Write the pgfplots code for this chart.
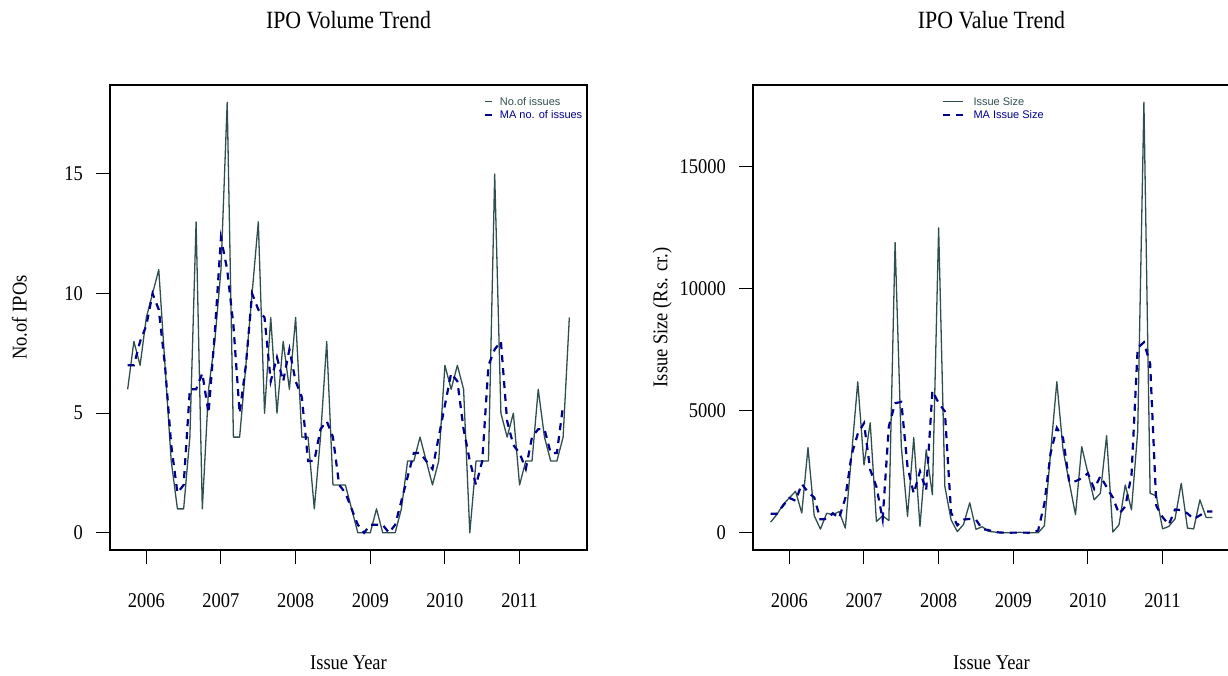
\documentclass[border=0pt]{standalone}
\usepackage{fontspec}
\setmainfont{Liberation Serif}[FakeStretch=0.88]
\newfontfamily\legfont{Liberation Sans}
\usepackage{pgfplots}
\pgfplotsset{compat=1.18}
\usepackage{pgfplotstable}
\definecolor{solidc}{HTML}{2F4F4F}
\definecolor{mac}{HTML}{00008B}
\newcommand\rfont{\fontsize{21}{24}\selectfont}
\newcommand\tfont{\fontsize{24.8}{28}\selectfont}
\newcommand\lfont{\legfont\fontsize{11}{13}\selectfont}

\pgfplotstableread{
i n nma s sma
0 6 7 440 783.3
1 8 7 750 783.3
2 7 8 1160 1113.3
3 9 8.667 1430 1430
4 10 10 1700 1313.3
5 11 9.333 810 2000
6 7 7 3490 1666.7
7 3 3.667 700 1446.7
8 1 1.667 150 550
9 1 2 800 563.3
10 4 6 740 803.3
11 13 6 870 600
12 1 6.667 190 1420
13 6 5 3200 3193.3
14 8 8.333 6190 4056.7
15 11 12.333 2780 4493.3
16 18 11 4510 2583.3
17 4 8.667 460 1890
18 4 5 700 553.3
19 7 7 500 4366.7
20 10 10 11900 5310
21 13 9.333 3530 5366.7
22 5 9 670 2700
23 9 6.333 3900 1610
24 5 7.333 260 2520
25 8 6.333 3400 1740
26 6 7.667 1560 5820
27 9 6.333 12500 5320
28 4 5.667 1900 4976.7
29 4 3 530 826.7
30 1 3 50 306.7
31 4 4.333 340 540
32 8 4.667 1230 570
33 2 4 140 540
34 2 2 250 150
35 2 1.667 60 113.3
36 1 1 30 30
37 0 0.333 0 10
38 0 0 0 0
39 0 0.333 0 6.7
40 1 0.333 20 6.7
41 0 0.333 0 6.7
42 0 0 0 0
43 0 0.333 0 96.7
44 1 1.333 290 1200
45 3 2.333 3310 3263.3
46 3 3.333 6190 4300
47 4 3.333 3400 3886.7
48 3 3 2070 2070
49 2 2.667 740 2113.3
50 3 4 3530 2236.7
51 7 5.333 2440 2440
52 6 6.667 1350 1803.3
53 7 6.333 1620 2316.7
54 6 4.333 3980 1876.7
55 0 3 30 1446.7
56 3 2 330 773.3
57 3 3 1960 1076.7
58 3 7 940 2350
59 15 7.667 4150 7580
60 5 8 17650 7806.7
61 4 4.667 1620 6926.7
62 5 3.667 1510 1096.7
63 2 3.333 160 643.3
64 3 2.667 260 330
65 3 4 570 953.3
66 6 4.333 2030 930
67 4 4.333 190 793.3
68 3 3.333 160 566.7
69 3 3.333 1350 713.3
70 4 5.333 630 870
71 9 nan 630 870
}\data

\tikzset{
  sline/.style={solidc, line width=1.3pt, line join=round},
  dline/.style={mac, line width=2.2pt, dash pattern=on 7pt off 6pt},
  legtext/.style={anchor=base west, inner sep=0pt, font=\lfont},
}

\pgfplotsset{
  rstyle/.style={
    scale only axis, width=477pt, height=465pt,
    anchor=south west,
    axis line style={line width=1.6pt, black},
    xmin=-2.84, xmax=73.84,
    xtick={3,15,27,39,51,63},
    xticklabels={2006,2007,2008,2009,2010,2011},
    scaled y ticks=false, scaled x ticks=false,
    tick align=outside, xtick pos=bottom, ytick pos=left,
    major tick length=14pt,
    tick style={line width=1pt, black},
    xticklabel style={font=\rfont, anchor=center, inner sep=0pt, yshift=-37pt},
    yticklabel style={font=\rfont, anchor=east, inner sep=0pt, xshift=-13pt},
    label style={font=\rfont},
    title style={font=\tfont, at={(axis description cs:0.5,1.1269)}, anchor=center},
    xlabel style={at={(axis description cs:0.5,-0.2430)}, anchor=center},
    ylabel style={at={(axis description cs:-0.19,0.5)}, anchor=center},
  },
}

\begin{document}
\begin{tikzpicture}
\begin{axis}[rstyle, at={(110pt,125pt)},
  ymin=-0.72, ymax=18.72, ytick={0,5,10,15}, yticklabels={0,5,10,15},
  title={IPO Volume Trend}, xlabel={Issue Year}, ylabel={No.of IPOs}]
\addplot[sline] table[x=i,y=n]{\data};
\addplot[dline] table[x=i,y=nma]{\data};
% legend
\draw[sline] (axis description cs:0.78616,0.96495) -- (axis description cs:0.80084,0.96495);
\node[legtext, text=solidc] at (axis description cs:0.81698,0.95634) {No.of issues};
\draw[dline] (axis description cs:0.78616,0.93613) -- (axis description cs:0.80084,0.93613);
\node[legtext, text=mac] at (axis description cs:0.81698,0.92753) {MA no. of issues};
\end{axis}
\begin{axis}[rstyle, at={(753pt,125pt)},
  ymin=-706, ymax=18356, ytick={0,5000,10000,15000}, yticklabels={0,5000,10000,15000},
  title={IPO Value Trend}, xlabel={Issue Year}, ylabel={Issue Size (Rs. cr.)}]
\addplot[sline] table[x=i,y=s]{\data};
\addplot[dline] table[x=i,y=sma]{\data};
% legend
\draw[sline] (axis description cs:0.39769,0.96495) -- (axis description cs:0.44088,0.96495);
\node[legtext, text=solidc] at (axis description cs:0.46184,0.95634) {Issue Size};
\draw[dline] (axis description cs:0.39769,0.93613) -- (axis description cs:0.44088,0.93613);
\node[legtext, text=mac] at (axis description cs:0.46184,0.92753) {MA Issue Size};
\end{axis}
\pgfresetboundingbox
\path[use as bounding box] (0pt,0pt) rectangle (1228pt,675pt);
\end{tikzpicture}
\end{document}
